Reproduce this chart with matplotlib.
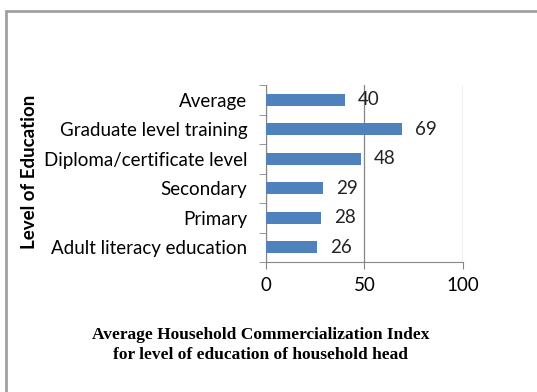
import matplotlib.pyplot as plt
from matplotlib.patches import Rectangle

# education levels, bottom to top
levels = ['Adult literacy education', 'Primary', 'Secondary',
          'Diploma/certificate level', 'Graduate level training', 'Average']
index_values = [26, 28, 29, 48, 69, 40]
x_ticks = [0, 50, 100]

bar_color = '#4F81BD'
grid_color = '#868686'

fig = plt.figure(figsize=(5.37, 3.92), dpi=100)
ax = fig.add_axes([0.4953, 0.3316, 0.3669, 0.4515])

pos = range(len(levels))
ax.barh(pos, index_values, height=0.4, color=bar_color, zorder=3)
for p, v in zip(pos, index_values):
    ax.text(v + 6.5, p, str(v), va='center', ha='left', fontsize=13.5,
            family='Lato', color='#222222', zorder=4)

ax.set_xlim(0, 100)
ax.set_ylim(-0.5, len(levels) - 0.5)
ax.set_xticks(x_ticks)
ax.set_xticklabels([str(t) for t in x_ticks], fontsize=13.5, family='Lato')
ax.set_yticks(list(pos))
ax.set_yticklabels(levels, fontsize=13.5, family='Lato')
ax.set_yticks([i - 0.5 for i in range(len(levels) + 1)], minor=True)
ax.tick_params(axis='y', which='major', length=0, pad=13.5)
ax.tick_params(axis='y', which='minor', length=5, color=grid_color)
ax.tick_params(axis='x', length=5, color=grid_color, pad=6)

ax.xaxis.grid(True, color=grid_color, linewidth=0.9, zorder=0)
for side in ['top', 'right']:
    ax.spines[side].set_visible(False)
for side in ['left', 'bottom']:
    ax.spines[side].set_color(grid_color)

ax.set_ylabel('Level of Education', fontsize=13.5, fontweight='bold',
              family='Lato')
ax.yaxis.set_label_coords(-1.157, 0.51)

fig.text(0.485, 0.12, 'Average Household Commercialization Index\nfor level of education of household head',
         ha='center', va='center', fontsize=12.5, fontweight='bold',
         family='Liberation Serif', linespacing=1.3)

# outer chart frame
fig.patches.append(Rectangle((6 / 537, -0.5), 1.5, 1.5 - 11 / 392,
                             transform=fig.transFigure, fill=False,
                             edgecolor='#a0a0a0', linewidth=2))

fig.savefig('out.png', dpi=100)
